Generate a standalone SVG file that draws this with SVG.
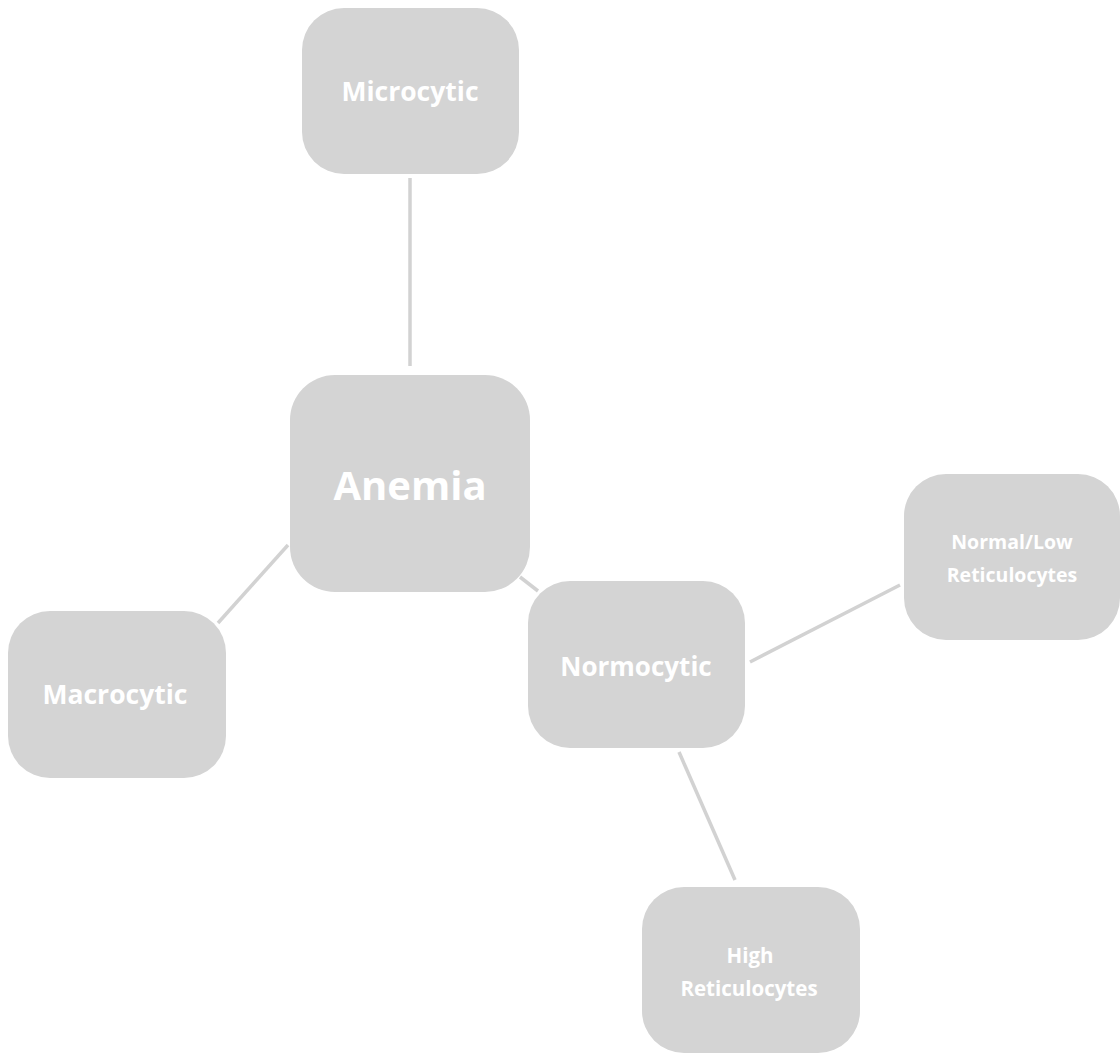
<svg xmlns="http://www.w3.org/2000/svg" width="1120" height="1057" viewBox="0 0 1120 1057">
<style>
.node{fill:#d4d4d4}
.t{fill:#ffffff;font-family:"Open Sans","Liberation Sans",sans-serif;font-weight:700;text-anchor:middle}
.edge{stroke:#d2d2d2;stroke-width:3.5;fill:none}
</style>
<rect width="1120" height="1057" fill="#ffffff"/>
<g id="connectors">
<line class="edge" x1="410" y1="178" x2="410" y2="366"/>
<line class="edge" x1="288" y1="545" x2="218" y2="623"/>
<line class="edge" x1="520" y1="577" x2="538" y2="591"/>
<line class="edge" x1="750" y1="662" x2="900" y2="585"/>
<line class="edge" x1="679" y1="752" x2="735" y2="880"/>
</g>
<g id="microcytic">
<rect class="node" x="302" y="8" width="217" height="166" rx="42"/>
<text class="t" x="410" y="101" font-size="26.5">Microcytic</text>
</g>
<g id="anemia">
<rect class="node" x="290" y="375" width="240" height="217" rx="45"/>
<text class="t" x="410" y="500" font-size="40">Anemia</text>
</g>
<g id="macrocytic">
<rect class="node" x="8" y="611" width="218" height="167" rx="42"/>
<text class="t" x="115" y="704" font-size="26.5">Macrocytic</text>
</g>
<g id="normocytic">
<rect class="node" x="528" y="581" width="217" height="167" rx="42"/>
<text class="t" x="636" y="676" font-size="26">Normocytic</text>
</g>
<g id="normal-low">
<rect class="node" x="904" y="474" width="216" height="166" rx="42"/>
<text class="t" x="1012" y="549" font-size="19.5">Normal/Low</text>
<text class="t" x="1012" y="582" font-size="19.5">Reticulocytes</text>
</g>
<g id="high">
<rect class="node" x="642" y="887" width="218" height="166" rx="42"/>
<text class="t" x="750" y="963" font-size="20.5">High</text>
<text class="t" x="749" y="996" font-size="20.5">Reticulocytes</text>
</g>
</svg>
